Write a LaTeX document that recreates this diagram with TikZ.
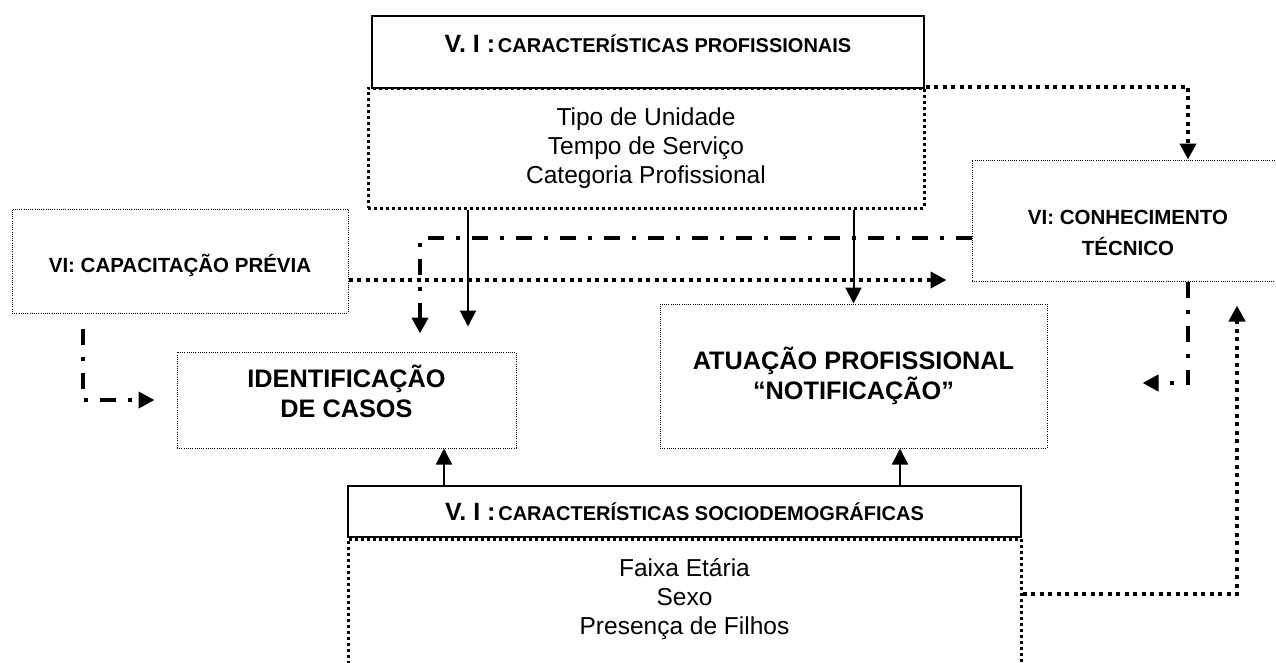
\documentclass[tikz,border=0pt]{standalone}
\usepackage{fontspec}
\setmainfont{Liberation Sans}
\usetikzlibrary{arrows.meta}

\newcommand\VIhead[1]{{\fontsize{25}{28}\selectfont\bfseries V. I :} {\fontsize{20}{22}\selectfont\bfseries #1}}

\begin{document}
\begin{tikzpicture}[
        x=1pt, y=-1pt,
        thinbox/.style={draw, line width=1pt, dash pattern=on 1pt off 1.2pt, align=center, inner sep=0pt},
        headbox/.style={draw, line width=1.5pt, inner sep=0pt},
        listbox/.style={draw, line width=3pt, dash pattern=on 3pt off 3pt, align=center, inner sep=0pt,
            font=\fontsize{24.5}{29}\selectfont},
        varfont/.style={font=\fontsize{20.5}{31}\selectfont\bfseries},
        bigfont/.style={font=\fontsize{25.3}{30}\selectfont\bfseries},
        headtip/.style={-{Triangle[length=16pt,width=16pt]}},
        solidline/.style={headtip, line width=2pt},
        dotline/.style={headtip, line width=4pt, dash pattern=on 4pt off 4.5pt},
        dashdotline/.style={headtip, line width=4pt, dash pattern=on 16pt off 12pt on 4pt off 12pt},
      ]
      \useasboundingbox (0,0) rectangle (1276,662);
      \clip (0,0) rectangle (1276,662);

      % Variable blocks
      \node[headbox, minimum width=552pt, minimum height=72pt, text depth=16pt] (profhead) at (648,52)
        {\VIhead{CARACTERÍSTICAS PROFISSIONAIS}};
      \node[listbox, minimum width=556pt, minimum height=120pt] (profbody) at (646,148)
        {Tipo de Unidade\\Tempo de Serviço\\Categoria Profissional};
      \node[thinbox, varfont, minimum width=336pt, minimum height=104pt, text height=27pt] (capac) at (180,261)
        {VI: CAPACITAÇÃO PRÉVIA};
      \node[thinbox, varfont, minimum width=312pt, minimum height=121pt, text height=71pt] (conh) at (1128,220.5)
        {VI: CONHECIMENTO\\TÉCNICO};
      \node[thinbox, bigfont, minimum width=339pt, minimum height=96pt, text depth=18pt] (ident) at (346.5,400)
        {IDENTIFICAÇÃO\\DE CASOS};
      \node[thinbox, bigfont, minimum width=387pt, minimum height=144pt] (atua) at (853.5,376)
        {ATUAÇÃO PROFISSIONAL\\“NOTIFICAÇÃO”};
      \node[headbox, minimum width=673pt, minimum height=51pt] (sociohead) at (684.5,511.5)
        {\VIhead{CARACTERÍSTICAS SOCIODEMOGRÁFICAS}};
      \node[listbox, anchor=north, minimum width=673pt, minimum height=200pt, text depth=85pt] (sociobody)
        at (sociohead.south) {Faixa Etária\\Sexo\\Presença de Filhos};

      % Connectors
      \draw[dotline] (profbody.north east) -| ([xshift=60pt]conh.north);
      \draw[solidline] ([xshift=121.5pt]ident.north |- profbody.south) -- ([xshift=121.5pt,yshift=25pt]ident.north);
      \draw[solidline] (atua.north |- profbody.south) -- (atua.north);
      \draw[dashdotline] ([yshift=-17.5pt]conh.west) -| ([xshift=73.5pt,yshift=18pt]ident.north);
      \draw[dotline] ([yshift=-19pt]capac.east) -- ([xshift=-25pt,yshift=-19pt]capac.east -| conh.west);
      \draw[dashdotline] ([xshift=-97pt,yshift=-15pt]capac.south) |- ([xshift=-22pt]ident.west);
      \draw[dashdotline] ([xshift=60pt]conh.south) |- ([xshift=95pt,yshift=-7pt]atua.east);
      \draw[dotline] ([yshift=45pt]sociobody.east) -| ([xshift=109pt,yshift=-24pt]conh.south);
      \draw[solidline] ([xshift=97.5pt]ident.south |- sociohead.north) -- ([xshift=97.5pt]ident.south);
      \draw[solidline] ([xshift=46.5pt]atua.south |- sociohead.north) -- ([xshift=46.5pt]atua.south);
    \end{tikzpicture}
\end{document}
